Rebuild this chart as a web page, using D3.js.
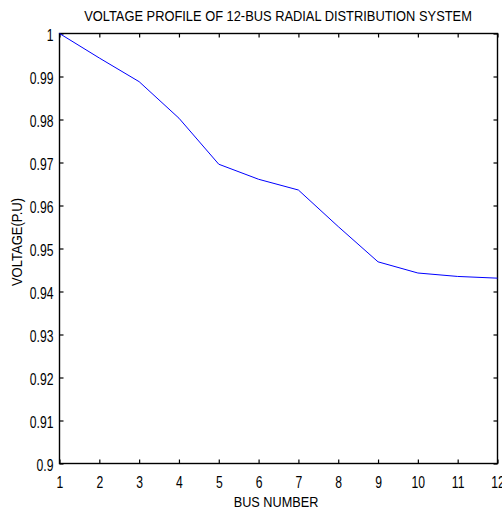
<!DOCTYPE html>
<meta charset="utf-8">
<script src="https://d3js.org/d3.v7.min.js"></script>
<style>
  body { margin: 0; background: #fff; }
  text { font-family: "Liberation Sans", Arial, sans-serif; fill: #000; }
</style>
<body>
<svg id="svg" width="502" height="511"></svg>
<script>
// data
var busNumber = [1, 2, 3, 4, 5, 6, 7, 8, 9, 10, 11, 12];
var voltage = [1.0, 0.9943, 0.9888, 0.9803, 0.9696, 0.9661, 0.9636, 0.9551, 0.9469, 0.9443, 0.9435, 0.9431];
var xTicks = [1, 2, 3, 4, 5, 6, 7, 8, 9, 10, 11, 12];
var yTicks = [0.9, 0.91, 0.92, 0.93, 0.94, 0.95, 0.96, 0.97, 0.98, 0.99, 1];

var svg = d3.select("svg");
// plot box (note: "top" is reserved on window, so use other names)
var boxL = 59.5, boxR = 497.5, boxT = 33.5, boxB = 463.5;

var x = d3.scaleLinear().domain([1, 12]).range([boxL, boxR]);
var y = d3.scaleLinear().domain([0.9, 1]).range([boxB, boxT]);

var fmt = function(d) { return String(+d.toFixed(2)); };

// bottom axis with labels, ticks pointing in
var gx = svg.append("g")
    .attr("transform", "translate(0," + boxB + ")")
    .call(d3.axisBottom(x).tickValues(xTicks).tickSizeInner(-4).tickSizeOuter(0).tickFormat(d3.format("d")));
gx.selectAll("text")
    .attr("dy", null)
    .attr("y", 24.5)
    .style("font-size", "16px")
    .attr("transform", "scale(0.76,1)");

// left axis
var gy = svg.append("g")
    .attr("transform", "translate(" + boxL + ",0)")
    .call(d3.axisLeft(y).tickValues(yTicks).tickSizeInner(-4).tickSizeOuter(0).tickFormat(fmt));
gy.selectAll("text")
    .attr("dy", null)
    .attr("y", 7)
    .attr("x", -6 / 0.76)
    .style("font-size", "16px")
    .attr("transform", "scale(0.76,1)");

// top and right axes, ticks only
svg.append("g")
    .attr("transform", "translate(0," + boxT + ")")
    .call(d3.axisTop(x).tickValues(xTicks).tickSizeInner(-4).tickSizeOuter(0).tickFormat(""));
svg.append("g")
    .attr("transform", "translate(" + boxR + ",0)")
    .call(d3.axisRight(y).tickValues(yTicks).tickSizeInner(-4).tickSizeOuter(0).tickFormat(""));

svg.selectAll(".domain").remove();
svg.selectAll(".tick line").attr("stroke", "#000").attr("stroke-width", 1.2);

// the box
svg.append("rect")
    .attr("x", boxL).attr("y", boxT)
    .attr("width", boxR - boxL).attr("height", boxB - boxT)
    .attr("fill", "none").attr("stroke", "#000").attr("stroke-width", 1.4);

// voltage curve
var line = d3.line()
    .x(function(d, i) { return x(busNumber[i]); })
    .y(function(d) { return y(d); });

svg.append("path")
    .datum(voltage)
    .attr("d", line)
    .attr("fill", "none")
    .attr("stroke", "#0000ff")
    .attr("stroke-width", 1);

// title and axis labels
svg.append("text")
    .attr("transform", "translate(278,21) scale(0.83,1)")
    .attr("text-anchor", "middle")
    .style("font-size", "15.5px")
    .text("VOLTAGE PROFILE OF 12-BUS RADIAL DISTRIBUTION SYSTEM");

svg.append("text")
    .attr("transform", "translate(276,507) scale(0.82,1)")
    .attr("text-anchor", "middle")
    .style("font-size", "15.5px")
    .text("BUS NUMBER");

svg.append("text")
    .attr("transform", "translate(22,242) rotate(-90) scale(0.84,1)")
    .attr("text-anchor", "middle")
    .style("font-size", "15.5px")
    .text("VOLTAGE(P.U)");
</script>
</body>
